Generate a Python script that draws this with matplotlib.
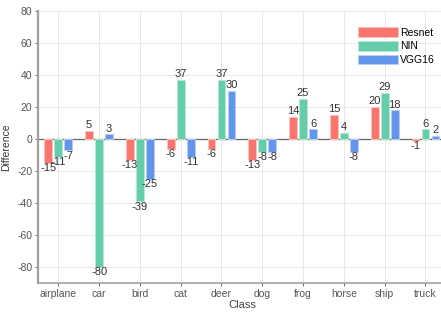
import numpy as np
import matplotlib.pyplot as plt

plt.rcParams['font.family'] = ['Liberation Sans', 'DejaVu Sans']
plt.rcParams['axes.unicode_minus'] = False

classes = ['airplane', 'car', 'bird', 'cat', 'deer', 'dog', 'frog', 'horse', 'ship', 'truck']
resnet = [-15, 5, -13, -6, -6, -13, 14, 15, 20, -1]
nin = [-11, -80, -39, 37, 37, -8, 25, 4, 29, 6]
vgg16 = [-7, 3, -25, -11, 30, -8, 6, -8, 18, 2]

colors = ['#F8766D', '#66CDAA', '#6495ED']
edges = ['#FCC2BD', '#B5E8D5', '#B7CEF6']
names = ['Resnet', 'NIN', 'VGG16']

fig = plt.figure(figsize=(4.41, 3.13), dpi=100)
ax = fig.add_axes([0.086, 0.096, 0.925, 0.869])

x = np.arange(len(classes))
w = 0.19
offs = [-0.245, 0, 0.245]
for vals, c, ec, off, name in zip([resnet, nin, vgg16], colors, edges, offs, names):
    ax.bar(x + off, vals, w, color=c, edgecolor=ec, linewidth=0.7, label=name, zorder=3)
    for xi, v in zip(x, vals):
        if v >= 0:
            ax.text(xi + off, v + 0.3, str(v), ha='center', va='bottom', fontsize=8, color='#333333', zorder=4)
        else:
            ax.text(xi + off, v - 0.3, str(v), ha='center', va='top', fontsize=8, color='#333333', zorder=4)

ax.axhline(0, color='#666666', lw=0.9, zorder=2)
ax.set_xlim(-0.5, 9.5)
ax.set_ylim(-90, 80)
ax.set_yticks(range(-80, 81, 20))
ax.set_xticks(x)
ax.set_xticklabels(classes)
ax.grid(True, color='#E8E8E8', lw=0.7, zorder=0)
for s in ['top', 'right']:
    ax.spines[s].set_visible(False)
for s in ['left', 'bottom']:
    ax.spines[s].set_color('#A0A0A0')
ax.spines['left'].set_linewidth(1.6)
ax.spines['bottom'].set_linewidth(1.2)
ax.tick_params(colors='#555555', labelsize=7.5, length=2, width=0.6, pad=2)
ax.set_xlabel('Class', fontsize=8, color='#444444', labelpad=1)
ax.set_ylabel('Difference', fontsize=7.5, color='#333333')
ax.yaxis.set_label_coords(-0.065, 0.5)

ax.legend(loc='upper left', bbox_to_anchor=(0.775, 0.955), frameon=False, fontsize=7.5,
          handlelength=3.8, handleheight=1.0, handletextpad=0.2, labelspacing=0.35, borderaxespad=0)

fig.savefig('out.png', dpi=100)
